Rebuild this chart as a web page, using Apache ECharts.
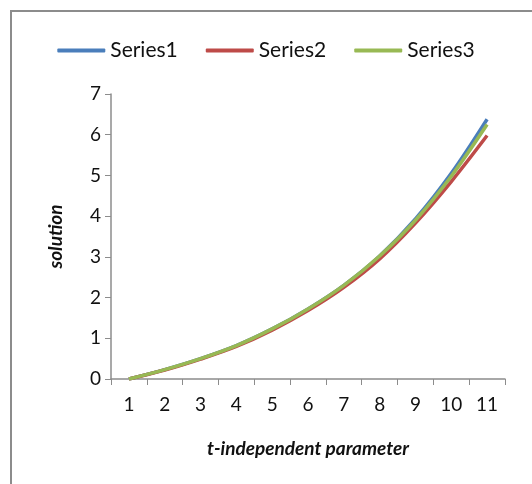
<!DOCTYPE html>
<html>
<head>
<meta charset="utf-8">
<script src="https://cdn.jsdelivr.net/npm/echarts@6/dist/echarts.min.js"></script>
<style>html,body{margin:0;padding:0;background:#fff}#c{width:532px;height:484px}</style>
</head>
<body>
<div id="c"></div>
<script>
const categories = ['1','2','3','4','5','6','7','8','9','10','11'];
const series1 = [0, 0.23, 0.5, 0.82, 1.23, 1.72, 2.3, 3.02, 3.93, 5.05, 6.38];
const series2 = [0, 0.22, 0.49, 0.8, 1.2, 1.68, 2.25, 2.95, 3.83, 4.85, 5.98];
const series3 = [0, 0.23, 0.5, 0.82, 1.23, 1.72, 2.3, 3.02, 3.9, 4.98, 6.25];
const yTicks = [0,1,2,3,4,5,6,7];
const names = ['Series1','Series2','Series3'];
const colors = ['#4a7ebb','#be4b48','#98b954'];
const FONT = 'Lato';
const chart = echarts.init(document.getElementById('c'));
const mk = (name, data, color) => ({
  name, type: 'line', data, smooth: 0.35, showSymbol: false, symbol: 'none',
  lineStyle: {width: 3.5, color}, itemStyle: {color}
});
chart.setOption({
  animation: false,
  color: colors,
  graphic: [
    {type:'line', shape:{x1:10, y1:11, x2:532, y2:11}, style:{stroke:'#8c8c8c', lineWidth:2}},
    {type:'line', shape:{x1:11, y1:10, x2:11, y2:484}, style:{stroke:'#8c8c8c', lineWidth:2}}
  ],
  legend: {
    top: 35, left: 'center', itemGap: 28, itemWidth: 48, itemHeight: 4,
    icon: 'roundRect',
    textStyle: {fontFamily: FONT, fontSize: 21, color: '#111', padding: [0,0,0,0]},
    data: names
  },
  grid: {left: 111, right: 27, top: 94, bottom: 105},
  xAxis: {
    type: 'category', data: categories, boundaryGap: true,
    name: 't-independent parameter', nameLocation: 'middle', nameGap: 60,
    nameTextStyle: {fontFamily: FONT, fontSize: 19, fontWeight: 'bold', fontStyle: 'italic', color: '#111'},
    axisLine: {lineStyle: {color: '#8c8c8c', width: 1.5}},
    axisTick: {show: true, alignWithLabel: false, length: 6, lineStyle: {color: '#8c8c8c'}},
    axisLabel: {fontFamily: FONT, fontSize: 19, color: '#111', margin: 16}
  },
  yAxis: {
    type: 'value', min: yTicks[0], max: yTicks[yTicks.length-1], interval: 1,
    name: 'solution', nameLocation: 'middle', nameGap: 46, nameRotate: 90,
    nameTextStyle: {fontFamily: FONT, fontSize: 19, fontWeight: 'bold', fontStyle: 'italic', color: '#111'},
    axisLine: {show: true, lineStyle: {color: '#8c8c8c', width: 1.5}},
    axisTick: {show: true, length: 6, inside: false, lineStyle: {color: '#8c8c8c'}},
    splitLine: {show: false},
    axisLabel: {fontFamily: FONT, fontSize: 19, color: '#111', margin: 10}
  },
  series: [mk(names[0], series1, colors[0]), mk(names[1], series2, colors[1]), mk(names[2], series3, colors[2])]
});
</script>
</body>
</html>
